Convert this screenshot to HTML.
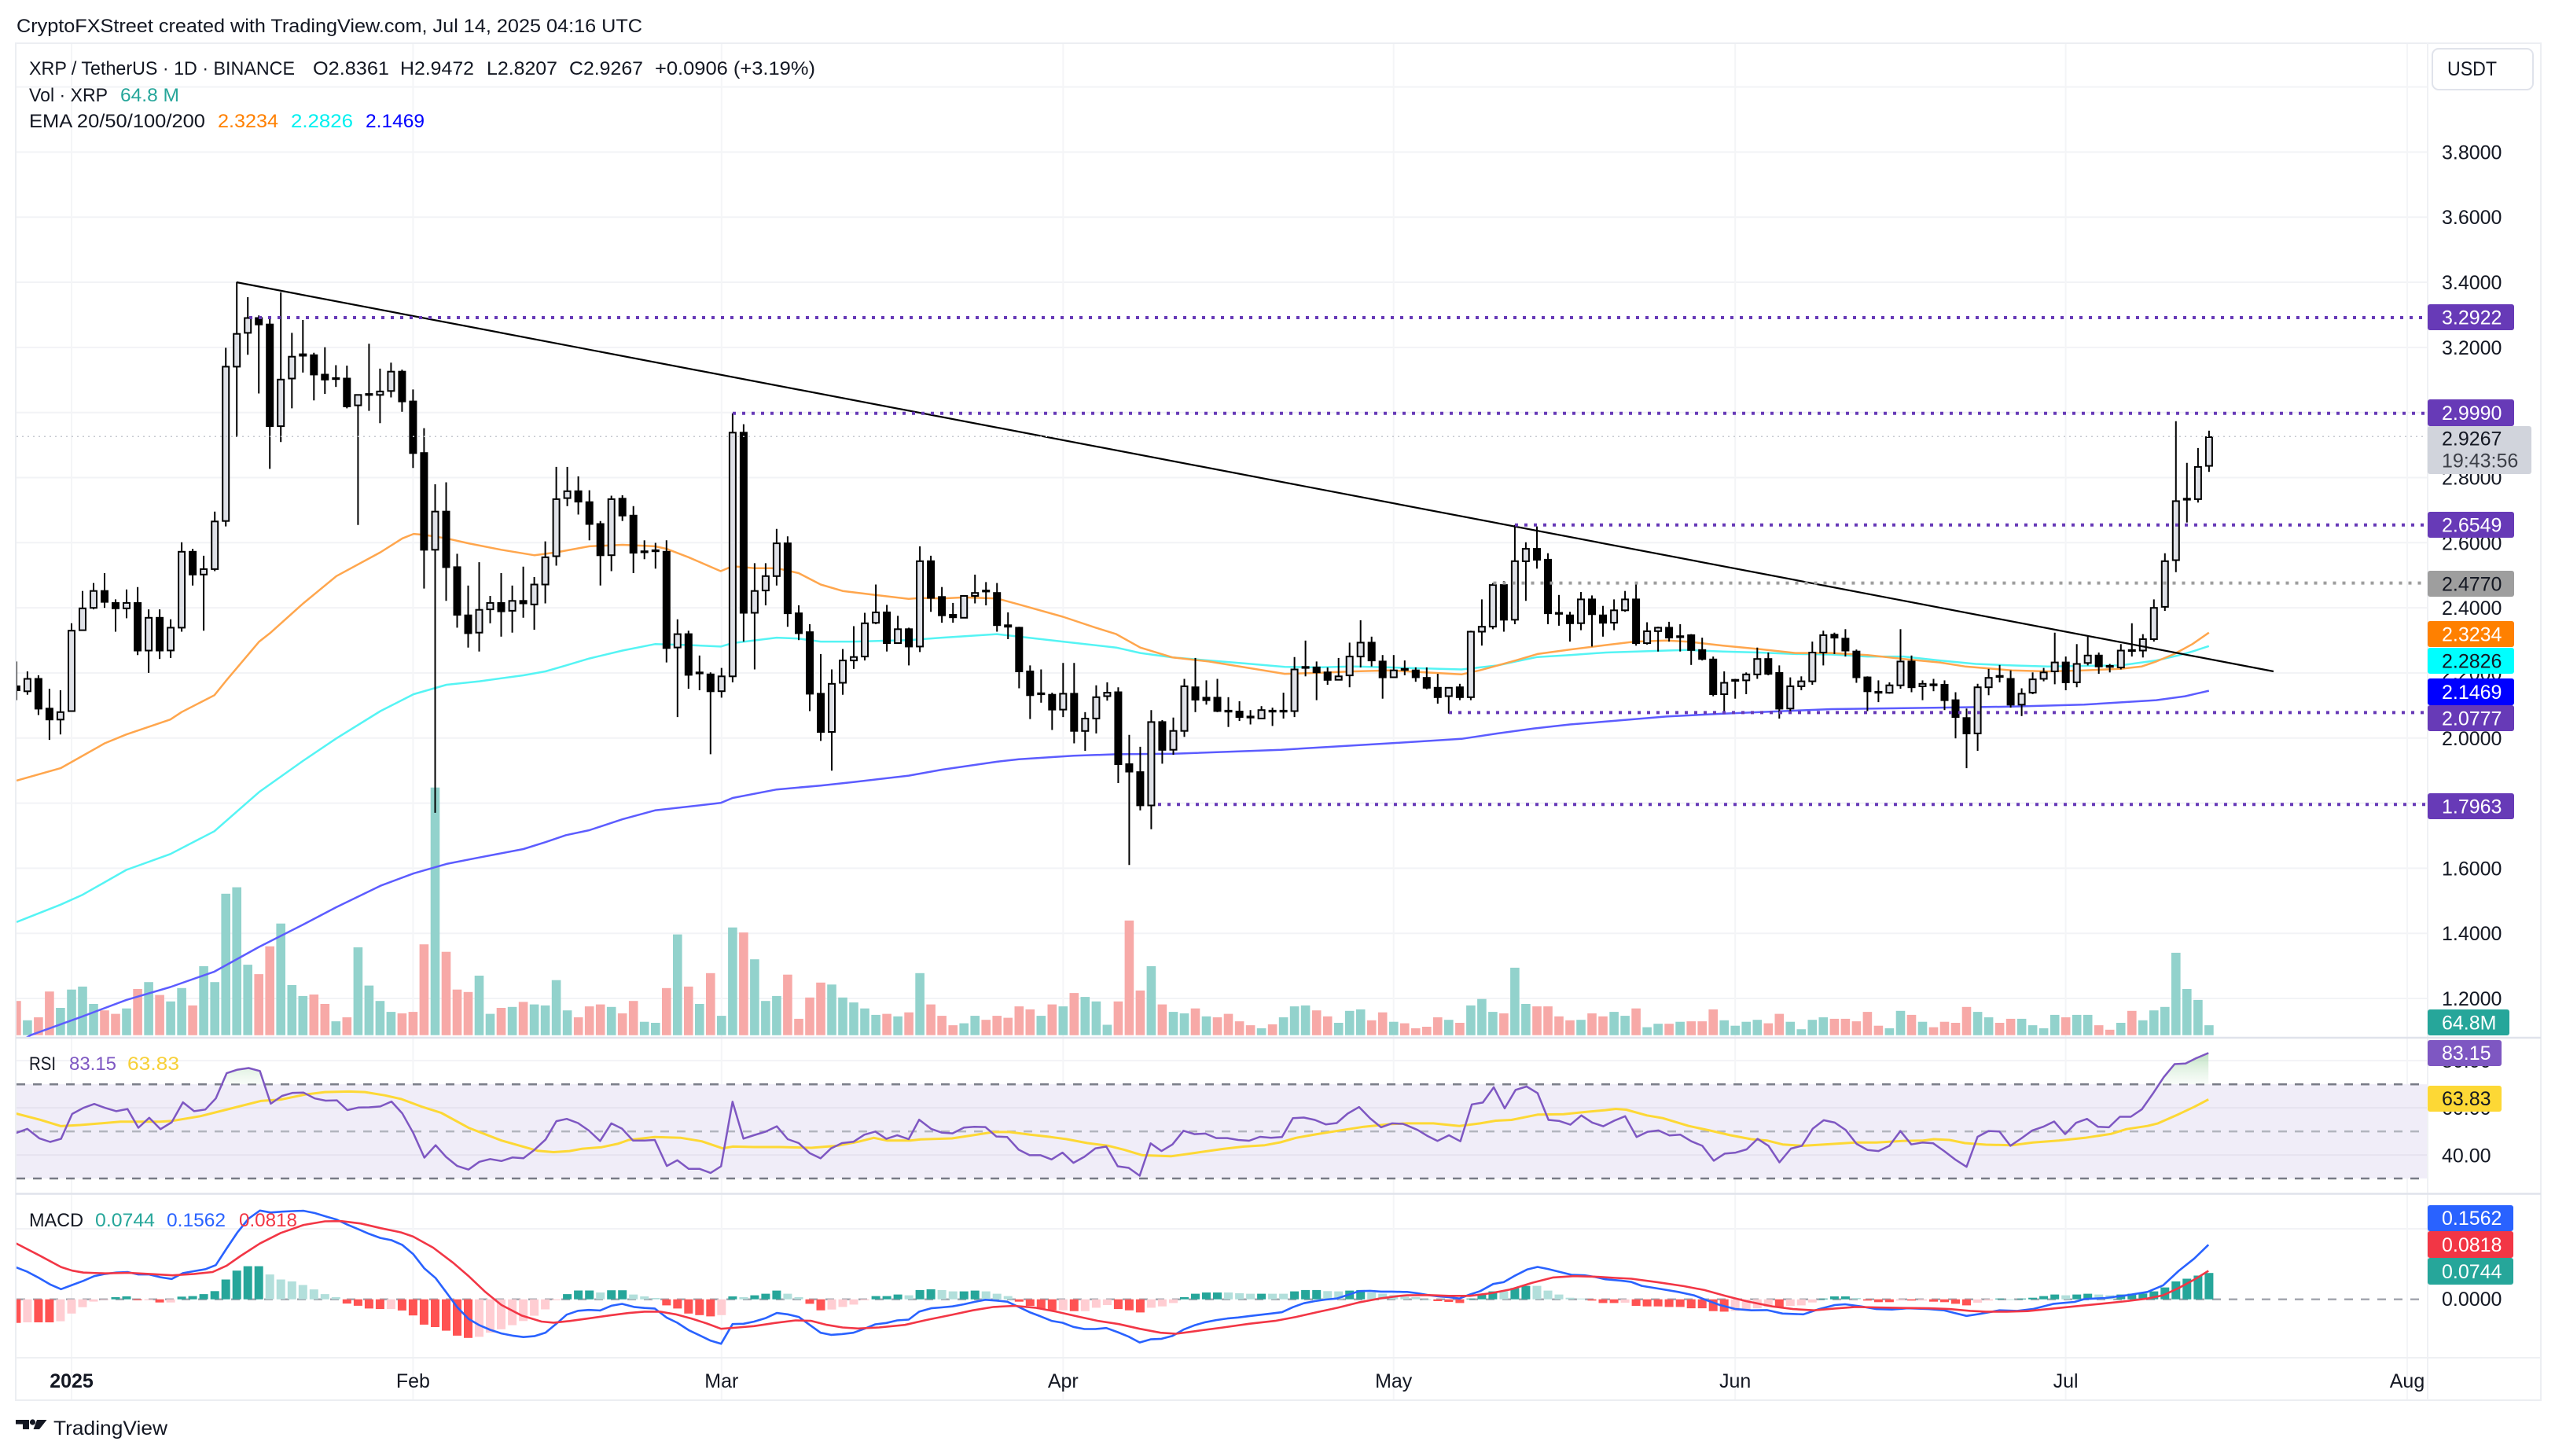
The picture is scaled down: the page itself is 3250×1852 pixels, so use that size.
<!DOCTYPE html>
<html><head><meta charset="utf-8">
<style>
html,body{margin:0;padding:0;background:#fff;}
body{width:3250px;height:1852px;overflow:hidden;position:relative;font-family:"Liberation Sans",Arial,sans-serif;}
svg{position:absolute;left:0;top:0;}
text{font-family:"Liberation Sans",Arial,sans-serif;}
.ax{font-size:25px;fill:#131722;}
.lg{font-size:24px;fill:#131722;}
.wt{font-size:25px;fill:#ffffff;}
.bk{font-size:25px;fill:#131722;}
</style></head><body>
<svg id="c" width="3250" height="1852" viewBox="0 0 3250 1852" xmlns="http://www.w3.org/2000/svg">
<defs>
<clipPath id="cpMain"><rect x="21" y="56" width="3067" height="1263"/></clipPath>
<clipPath id="cpRsi"><rect x="21" y="1321" width="3067" height="196"/></clipPath>
<clipPath id="cpOb"><rect x="21" y="1321" width="3067" height="58.2"/></clipPath>
<clipPath id="cpMacd"><rect x="21" y="1520" width="3067" height="206"/></clipPath>
<linearGradient id="gob" x1="0" y1="1330" x2="0" y2="1379" gradientUnits="userSpaceOnUse">
<stop offset="0" stop-color="#8fcc92" stop-opacity="0.75"/>
<stop offset="1" stop-color="#e8f5e9" stop-opacity="0.3"/>
</linearGradient>
</defs>
<rect x="0" y="0" width="3250" height="1852" fill="#ffffff"/>

<text x="21" y="41" class="lg" textLength="796" lengthAdjust="spacingAndGlyphs">CryptoFXStreet created with TradingView.com, Jul 14, 2025 04:16 UTC</text>

<!-- grid -->
<g stroke="#f2f3f6" stroke-width="2">
<line x1="21" x2="3088" y1="110.6" y2="110.6"/>
<line x1="21" x2="3088" y1="193.4" y2="193.4"/>
<line x1="21" x2="3088" y1="276.2" y2="276.2"/>
<line x1="21" x2="3088" y1="359" y2="359"/>
<line x1="21" x2="3088" y1="441.9" y2="441.9"/>
<line x1="21" x2="3088" y1="524.7" y2="524.7"/>
<line x1="21" x2="3088" y1="607.5" y2="607.5"/>
<line x1="21" x2="3088" y1="690.3" y2="690.3"/>
<line x1="21" x2="3088" y1="773.1" y2="773.1"/>
<line x1="21" x2="3088" y1="856" y2="856"/>
<line x1="21" x2="3088" y1="938.8" y2="938.8"/>
<line x1="21" x2="3088" y1="1021.6" y2="1021.6"/>
<line x1="21" x2="3088" y1="1104.4" y2="1104.4"/>
<line x1="21" x2="3088" y1="1187.2" y2="1187.2"/>
<line x1="21" x2="3088" y1="1270" y2="1270"/>
<line x1="21" x2="3088" y1="1349.1" y2="1349.1"/>
<line x1="21" x2="3088" y1="1563" y2="1563"/>
</g>
<g stroke="#f4f5f7" stroke-width="2">
<line x1="91" x2="91" y1="56" y2="1780"/>
<line x1="525.4" x2="525.4" y1="56" y2="1780"/>
<line x1="917.8" x2="917.8" y1="56" y2="1780"/>
<line x1="1352.3" x2="1352.3" y1="56" y2="1780"/>
<line x1="1772.7" x2="1772.7" y1="56" y2="1780"/>
<line x1="2207.2" x2="2207.2" y1="56" y2="1780"/>
<line x1="2627.6" x2="2627.6" y1="56" y2="1780"/>
<line x1="3062" x2="3062" y1="56" y2="1780"/>
</g>

<!-- RSI background -->
<rect x="21" y="1379.2" width="3067" height="119.8" fill="#f0edf8"/>
<g stroke="#e6e2ef" stroke-width="2">
<line x1="21" x2="3088" y1="1409.1" y2="1409.1"/>
<line x1="21" x2="3088" y1="1469.1" y2="1469.1"/>
</g>
<line x1="21" x2="3088" y1="1379.2" y2="1379.2" stroke="#787b86" stroke-width="2.5" stroke-dasharray="11 10"/>
<line x1="21" x2="3088" y1="1439.1" y2="1439.1" stroke="#b2b5be" stroke-width="2.5" stroke-dasharray="11 10"/>
<line x1="21" x2="3088" y1="1499" y2="1499" stroke="#787b86" stroke-width="2.5" stroke-dasharray="11 10"/>
<line x1="21" x2="3088" y1="1652.7" y2="1652.7" stroke="#a5a8b0" stroke-width="2.5" stroke-dasharray="11 10"/>

<g id="gvol" clip-path="url(#cpMain)"></g>
<g id="gema" clip-path="url(#cpMain)"></g>
<g id="gcdl" clip-path="url(#cpMain)"></g>

<!-- trendline & levels -->
<line x1="300.7" y1="359" x2="2892" y2="854" stroke="#000" stroke-width="2.2"/>
<line x1="21" x2="3088" y1="555.3" y2="555.3" stroke="#c5c8cf" stroke-width="1.5" stroke-dasharray="2 5"/>
<g stroke="#673ab7" stroke-width="4" stroke-dasharray="4 8">
<line x1="317" x2="3088" y1="404" y2="404"/>
<line x1="932" x2="3088" y1="525.7" y2="525.7"/>
<line x1="1927" x2="3088" y1="667.8" y2="667.8"/>
<line x1="1843" x2="3088" y1="906.4" y2="906.4"/>
<line x1="1473" x2="3088" y1="1023.3" y2="1023.3"/>
</g>
<line x1="1899.5" x2="3088" y1="741.6" y2="741.6" stroke="#9e9e9e" stroke-width="4" stroke-dasharray="4 8"/>

<g id="grsi" clip-path="url(#cpRsi)"></g>
<g id="gmacd" clip-path="url(#cpMacd)"></g>

<!-- frame & separators -->
<rect x="20" y="55" width="3212" height="1726" fill="none" stroke="#eceef2" stroke-width="2"/>
<line x1="3088" x2="3088" y1="55" y2="1781" stroke="#f0f1f4" stroke-width="2"/>
<line x1="20" x2="3232" y1="1320" y2="1320" stroke="#e0e3eb" stroke-width="2.5"/>
<line x1="20" x2="3232" y1="1518.5" y2="1518.5" stroke="#e0e3eb" stroke-width="2.5"/>
<line x1="20" x2="3232" y1="1727" y2="1727" stroke="#eef0f3" stroke-width="2"/>

<!-- legend -->
<text x="37" y="95" class="lg" textLength="338" lengthAdjust="spacingAndGlyphs">XRP / TetherUS · 1D · BINANCE</text>
<text x="398" y="95" class="lg" textLength="97" lengthAdjust="spacingAndGlyphs">O2.8361</text>
<text x="509" y="95" class="lg" textLength="94" lengthAdjust="spacingAndGlyphs">H2.9472</text>
<text x="619" y="95" class="lg" textLength="90" lengthAdjust="spacingAndGlyphs">L2.8207</text>
<text x="724" y="95" class="lg" textLength="94" lengthAdjust="spacingAndGlyphs">C2.9267</text>
<text x="833" y="95" class="lg" textLength="204" lengthAdjust="spacingAndGlyphs">+0.0906 (+3.19%)</text>
<text x="37" y="129" class="lg" textLength="100" lengthAdjust="spacingAndGlyphs">Vol · XRP</text>
<text x="153" y="129" class="lg" style="fill:#26a69a" textLength="75" lengthAdjust="spacingAndGlyphs">64.8 M</text>
<text x="37" y="162" class="lg" textLength="224" lengthAdjust="spacingAndGlyphs">EMA 20/50/100/200</text>
<text x="277" y="162" class="lg" style="fill:#ff8000" textLength="77" lengthAdjust="spacingAndGlyphs">2.3234</text>
<text x="370" y="162" class="lg" style="fill:#00f0f0" textLength="79" lengthAdjust="spacingAndGlyphs">2.2826</text>
<text x="465" y="162" class="lg" style="fill:#0000ff" textLength="75" lengthAdjust="spacingAndGlyphs">2.1469</text>

<text x="37" y="1361" class="lg" textLength="34" lengthAdjust="spacingAndGlyphs">RSI</text>
<text x="88" y="1361" class="lg" style="fill:#7e57c2" textLength="60" lengthAdjust="spacingAndGlyphs">83.15</text>
<text x="162" y="1361" class="lg" style="fill:#f7d038" textLength="66" lengthAdjust="spacingAndGlyphs">63.83</text>
<text x="37" y="1560" class="lg" textLength="69" lengthAdjust="spacingAndGlyphs">MACD</text>
<text x="121" y="1560" class="lg" style="fill:#26a69a" textLength="76" lengthAdjust="spacingAndGlyphs">0.0744</text>
<text x="212" y="1560" class="lg" style="fill:#2962ff" textLength="75" lengthAdjust="spacingAndGlyphs">0.1562</text>
<text x="304" y="1560" class="lg" style="fill:#f23645" textLength="74" lengthAdjust="spacingAndGlyphs">0.0818</text>

<!-- price axis -->
<rect x="3094" y="62" width="128" height="52" rx="8" fill="#fff" stroke="#e0e3eb" stroke-width="2"/>
<text x="3113" y="96" class="ax" textLength="63" lengthAdjust="spacingAndGlyphs">USDT</text>
<g class="ax">
<text x="3106" y="202.4">3.8000</text>
<text x="3106" y="285.2">3.6000</text>
<text x="3106" y="368">3.4000</text>
<text x="3106" y="450.9">3.2000</text>
<text x="3106" y="616.5">2.8000</text>
<text x="3106" y="699.3">2.6000</text>
<text x="3106" y="782.1">2.4000</text>
<text x="3106" y="865">2.2000</text>
<text x="3106" y="947.8">2.0000</text>
<text x="3106" y="1113.4">1.6000</text>
<text x="3106" y="1196.2">1.4000</text>
<text x="3106" y="1279">1.2000</text>
<text x="3106" y="1358">80.00</text>
<text x="3106" y="1418">60.00</text>
<text x="3106" y="1478.5">40.00</text>
<text x="3106" y="1661">0.0000</text>
</g>
<rect x="3088" y="387" width="110" height="33" rx="3" fill="#673ab7"/><text x="3106" y="412.5" class="wt">3.2922</text>
<rect x="3088" y="508" width="110" height="34" rx="3" fill="#673ab7"/><text x="3106" y="534" class="wt">2.9990</text>
<rect x="3088" y="542" width="132" height="61" rx="3" fill="#d1d4dc"/><text x="3106" y="566.5" class="bk">2.9267</text><text x="3106" y="594.5" class="bk" style="fill:#3c3f47">19:43:56</text>
<rect x="3088" y="651" width="110" height="33" rx="3" fill="#673ab7"/><text x="3106" y="676.5" class="wt">2.6549</text>
<rect x="3088" y="726" width="110" height="33" rx="3" fill="#9e9e9e"/><text x="3106" y="751.5" class="bk">2.4770</text>
<rect x="3088" y="790" width="110" height="33" rx="3" fill="#ff8000"/><text x="3106" y="815.5" class="wt">2.3234</text>
<rect x="3088" y="824" width="110" height="33" rx="3" fill="#00ffff"/><text x="3106" y="849.5" class="bk">2.2826</text>
<rect x="3088" y="863" width="110" height="34" rx="3" fill="#0000ff"/><text x="3106" y="889" class="wt">2.1469</text>
<rect x="3088" y="897" width="110" height="33" rx="3" fill="#673ab7"/><text x="3106" y="922.5" class="wt">2.0777</text>
<rect x="3088" y="1009" width="110" height="33" rx="3" fill="#673ab7"/><text x="3106" y="1034.5" class="wt">1.7963</text>
<rect x="3088" y="1284" width="104" height="33" rx="3" fill="#26a69a"/><text x="3106" y="1309.5" class="wt">64.8M</text>
<rect x="3088" y="1323" width="94" height="33" rx="3" fill="#7e57c2"/><text x="3106" y="1348" class="wt">83.15</text>
<rect x="3088" y="1381" width="94" height="33" rx="3" fill="#fdd835"/><text x="3106" y="1406" class="bk">63.83</text>
<rect x="3088" y="1533" width="109" height="33" rx="3" fill="#2962ff"/><text x="3106" y="1558" class="wt">0.1562</text>
<rect x="3088" y="1566" width="109" height="34" rx="3" fill="#f23645"/><text x="3106" y="1592" class="wt">0.0818</text>
<rect x="3088" y="1600" width="109" height="34" rx="3" fill="#26a69a"/><text x="3106" y="1626" class="wt">0.0744</text>

<!-- time axis -->
<g class="ax" text-anchor="middle">
<text x="91" y="1765" style="font-weight:bold">2025</text>
<text x="525.4" y="1765">Feb</text>
<text x="917.8" y="1765">Mar</text>
<text x="1352.3" y="1765">Apr</text>
<text x="1772.7" y="1765">May</text>
<text x="2207.2" y="1765">Jun</text>
<text x="2627.6" y="1765">Jul</text>
<text x="3062" y="1765">Aug</text>
</g>

<!-- logo -->
<g fill="#131722">
<polygon points="20,1806 37,1806 37,1818 29,1818 29,1811.5 20,1811.5"/>
<circle cx="41.5" cy="1809" r="3.6"/>
<polygon points="47,1806 59.5,1806 50,1818 42.5,1818"/>
</g>
<text x="68" y="1825" style="font-size:25px;fill:#131722" textLength="145" lengthAdjust="spacingAndGlyphs">TradingView</text>
</svg>
<script>
(function(){
var NS="http://www.w3.org/2000/svg";
function mk(t,a,p){var e=document.createElementNS(NS,t);for(var k in a)e.setAttribute(k,a[k]);p.appendChild(e);return e;}
function X(i){return 34.9+14.015*i;}
function Y(v){return 330+v/1.584;}
var gv=document.getElementById('gvol'),ge=document.getElementById('gema'),gc=document.getElementById('gcdl'),gr=document.getElementById('grsi'),gm=document.getElementById('gmacd');

/* volume */
var V="r1494,t1533,r1527,r1475,t1508,t1471,t1465,t1500,r1513,r1520,t1509,r1470,t1456,r1482,t1495,t1468,r1503,t1424,t1456,t1278,t1265,t1421,r1440,r1384,t1338,t1462,t1484,r1481,r1500,t1535,r1527,t1386,t1463,t1494,t1516,r1519,r1516,r1380,t1064,r1395,r1471,r1476,t1443,t1520,r1508,t1506,r1496,t1501,t1503,t1452,t1513,r1527,r1505,r1501,t1506,r1519,r1494,t1536,t1538,r1468,t1360,r1465,t1500,r1438,t1524,t1346,r1356,t1410,t1494,t1484,r1441,r1530,r1487,r1457,t1461,t1487,t1497,t1509,t1522,r1520,t1525,r1517,t1438,r1501,r1524,r1543,t1539,t1524,r1532,r1524,r1528,r1505,r1511,t1524,r1501,t1505,r1478,t1486,t1495,t1542,r1495,r1332,r1473,t1424,r1501,t1516,t1519,r1509,t1525,r1527,r1520,r1535,r1543,t1549,r1541,t1527,t1505,t1503,r1513,r1525,t1538,t1514,t1511,r1533,r1517,t1536,r1539,r1549,r1546,r1527,t1532,r1538,t1503,t1490,t1516,r1519,t1427,t1500,r1505,r1505,r1525,r1533,t1532,r1519,r1525,t1516,t1524,r1509,t1547,t1540,r1540,t1536,r1535,r1535,r1511,t1533,t1544,t1536,t1532,r1539,r1520,t1536,t1551,t1532,t1527,r1530,r1530,r1535,r1516,r1544,t1549,t1514,r1522,t1536,r1547,r1536,r1538,r1506,t1516,t1527,r1538,r1530,t1530,t1543,t1549,t1522,r1527,t1522,t1522,r1543,r1552,t1538,r1514,t1533,t1513,t1506,t1397,t1470,t1492,t1543".split(',');
var vb=Y(1563);
for(var k=0;k<V.length;k++){var i=k-1,c=V[k][0],y=Y(+V[k].slice(1));
mk('rect',{x:(X(i)-5.8).toFixed(1),y:y.toFixed(1),width:11.6,height:(vb-y).toFixed(1),fill:c=='t'?'#92d2cc':'#f7a9a7'},gv);}

/* EMAs */
function zx(z,x){return [0,700,1400,2100][z]+x/2.178;}
function ln(str,stroke,w,g){var pts=[];str.split('|').forEach(function(seg){var p=seg.split(':');var z=+p[0];p[1].trim().split(/\s+/).forEach(function(q){var a=q.split(',');pts.push(zx(z,+a[0]).toFixed(1)+','+Y(+a[1]).toFixed(1));});});
mk('polyline',{points:pts.join(' '),fill:'none',stroke:stroke,'stroke-width':w,'stroke-linejoin':'round'},g);}
ln("0:0,1600 85,1563 229,1525 350,1492 472,1466 594,1435 718,1385 840,1340 932,1305 1054,1262 1146,1237 1237,1218 1328,1205 1450,1188 1511,1174 1568,1160|1:108,1150 200,1128 290,1110 472,1095 505,1085 627,1068 749,1060 840,1053 993,1040 1085,1028 1237,1012 1298,1007 1450,1000 1568,997|2:200,996 500,988 800,975 1000,966 1100,955 1200,945 1300,937 1400,931 1568,921|3:200,915 500,906 800,903 1000,901 1200,897 1400,888 1480,880 1546,869","#5c5cff",2.5,ge);
ln("0:46,1335 168,1300 229,1280 350,1230 472,1198 594,1152 718,1073 840,1010 932,965 1054,910 1146,876 1237,857 1328,850 1450,838 1511,830 1568,818|1:108,804 200,788 290,775 383,777 472,780 505,773 627,762 688,764 749,770 840,770 993,767 1085,762 1237,755 1298,760 1420,770 1568,782|2:110,793 200,802 300,808 400,814 510,821 600,822 700,820 800,822 900,824 1000,826 1100,818 1150,810 1210,801 1300,797 1400,792 1568,788|3:100,787 200,790 300,792 400,795 500,796 600,800 700,800 800,808 900,815 1000,818 1100,820 1200,819 1300,818 1400,808 1460,798 1500,790 1546,779","#55f4f4",2.5,ge);
ln("0:46,1050 168,1025 290,975 350,957 472,927 503,912 594,878 625,850 718,770 748,753 840,693 932,638 1054,590 1115,562 1146,553 1176,555 1237,562 1298,572 1389,585 1481,596 1542,590|1:108,578 200,575 290,578 322,583 383,600 472,628 505,618 566,622 627,622 688,632 749,655 810,668 900,676 993,684 1024,682 1085,683 1145,681 1237,683 1298,695 1420,720 1511,742 1568,755|2:110,782 200,802 300,810 400,822 510,835 600,833 700,830 800,828 900,832 1000,836 1050,828 1100,818 1150,808 1210,795 1300,786 1400,777 1480,770 1568,768|3:100,770 200,778 300,785 400,793 500,793 600,797 700,805 800,812 870,820 1000,828 1100,830 1200,828 1300,825 1360,820 1400,810 1450,795 1500,775 1546,752","#ffa64d",2.5,ge);

/* candles */
var CD="d860,868,810,888 u845,870,830,877 d845,905,838,918 d905,927,865,968 u912,927,868,957 u748,910,733,910 u703,747,668,747 u668,702,652,705 d668,690,632,702 d692,703,685,750 u692,703,665,723 d692,788,660,797 u722,788,705,833 d722,788,705,805 u742,788,725,803 u589,742,570,750 d589,635,583,657 u624,635,597,748 u528,624,508,628 u216,527,178,538 u150,216,46,358 u118,148,76,192 d118,131,113,270 d131,336,120,422 u242,336,66,368 u196,240,148,300 d191,194,122,228 d193,232,188,284 d232,242,177,271 d239,241,213,257 d240,296,214,300 u273,294,273,535 d271,273,170,305 u266,273,220,330 u226,265,208,278 d226,286,222,307 d286,390,262,420 d390,585,340,663 u508,585,453,1115 d508,620,449,688 d620,716,593,742 d717,753,657,782 u706,752,610,790 u692,705,678,733 d692,709,632,760 u688,708,657,752 d688,693,619,722 u655,695,640,746 u600,655,568,693 u483,598,418,617 u467,481,418,497 d467,488,437,514 d489,533,465,566 d533,596,527,657 u483,596,476,628 d482,516,475,527 d516,591,497,632 d588,590,566,604 d586,588,571,623 d589,783,566,812 u755,782,725,922 d755,837,748,865 d832,834,798,868 d836,870,832,997 u840,870,823,883 u349,840,310,852 d349,712,332,770 u668,712,612,826 u638,667,612,697 u572,638,543,657 d572,713,558,740 d713,753,697,767 d751,875,735,910 d875,952,795,970 u855,952,826,1030 u808,853,785,877 u801,808,739,825 u733,800,712,808 u711,732,655,735 d711,773,696,790 u745,773,718,773 d745,780,742,818 u608,780,578,791 d608,682,597,710 d680,717,660,732 d716,721,692,732 u678,722,678,723 u672,678,635,693 d667,669,650,697 d672,737,652,750 d737,740,711,765 d742,830,740,864 d830,878,818,926 d874,876,826,893 d877,907,873,948 u875,907,813,922 d875,950,813,975 u925,950,912,990 u882,925,858,955 u873,880,852,889 d872,1017,862,1055 d1017,1032,958,1220 d1033,1100,982,1110 u932,1100,908,1148 d932,988,928,1016 u950,988,923,998 u860,950,845,962 d862,887,803,912 d883,888,848,897 d883,910,845,912 d909,911,882,942 d911,922,890,930 d921,923,908,937 u908,925,900,925 d909,911,903,940 d909,911,873,925 u826,910,801,922 d821,823,768,840 d822,832,810,888 d832,847,822,857 u840,847,803,848 u800,838,772,862 u772,800,727,822 d772,808,760,820 d810,842,797,885 u828,842,797,842 d825,827,808,838 d828,842,822,851 d843,863,822,866 d863,882,835,895 u863,880,863,915 d862,882,855,888 u750,882,748,888 u740,750,685,778 u656,740,652,745 d656,726,648,750 u608,726,535,735 u583,608,570,688 d583,605,538,623 d605,713,592,735 d712,714,676,738 d717,733,710,770 u685,733,670,747 d685,715,677,780 d717,732,698,760 u707,732,685,747 u685,707,668,710 d685,773,651,778 u749,773,731,776 u742,749,740,790 d742,762,730,770 d759,761,735,790 d757,787,755,817 d787,805,762,808 d806,876,800,880 u853,876,830,913 d847,849,845,885 u836,848,832,876 u805,836,782,845 d805,835,792,838 d833,905,818,925 u860,905,842,912 u850,860,840,868 u792,850,770,857 u757,792,748,818 d756,762,752,795 d764,788,745,800 d790,842,786,853 d842,870,840,910 d871,873,848,892 u858,873,852,875 u810,858,745,865 d810,862,798,872 u855,860,848,888 d856,858,845,870 d857,888,848,908 d888,922,872,965 d924,955,905,1025 u862,955,855,990 u843,862,825,878 d839,841,817,852 d845,897,828,903 u875,897,864,920 u846,873,832,876 u832,845,823,850 u812,830,752,856 d812,852,800,868 u815,852,775,862 u798,813,760,818 d798,820,792,835 d819,821,815,832 u788,822,775,826 d787,789,733,800 u765,788,755,802 u702,765,685,770 u608,700,592,708 u487,606,326,630 d482,484,410,530 u418,483,380,490 u358,416,345,428".split(' ');
CD.forEach(function(s,k){var i=k-1,up=s[0]=='u',a=s.slice(1).split(',').map(Number),cx=X(i);
mk('line',{x1:cx.toFixed(1),x2:cx.toFixed(1),y1:Y(a[2]).toFixed(1),y2:Y(a[3]).toFixed(1),stroke:'#000','stroke-width':2},gc);
var t=Y(a[0]),b=Y(a[1]);var h=Math.max(b-t,0.6);
mk('rect',{x:(cx-4).toFixed(1),y:t.toFixed(1),width:8,height:h.toFixed(1),fill:up?'#dfe1e7':'#000',stroke:'#000','stroke-width':2},gc);});

/* RSI / MACD */
var Z4=[0,1.96,1300,2.84],Z10=[760,1.508,1320,2.985],Z11=[1790,1.508,1320,2.985];
function P(list,z){return list.trim().split(/\s+/).map(function(q){var a=q.split(',');return [z[0]+a[0]/z[1],z[2]+a[1]/z[3]];});}
function S(arr){return arr.map(function(p){return p[0].toFixed(1)+','+p[1].toFixed(1);}).join(' ');}
var rsi=P("38,402 68,386 98,420 125,433 152,422 180,332 208,310 235,296 262,310 290,322 318,314 345,382 372,346 400,387 428,362 456,290 484,322 512,316 538,276 565,185 592,172 620,166 648,177 675,295 703,267 730,256 757,255 785,276 812,284 840,283 866,318 893,309 920,308 948,305 976,287 1003,330 1030,400 1058,490 1086,445 1112,487 1140,520 1168,533 1195,505 1222,495 1250,502 1278,489 1305,492 1332,462 1360,425 1387,358 1413,350 1441,365 1468,392 1496,430 1524,366",Z4).concat(
P("47,345 68,390 90,390 110,388 133,487 153,465 175,498 196,498 217,513 237,488 259,243 280,383 300,370 322,357 344,336 365,385 386,400 407,438 428,458 448,420 469,400 491,395 512,368 533,356 554,384 575,370 597,385 617,311 640,346 660,360 681,363 703,341 723,338 744,339 765,375 786,377 808,425 829,446 850,446 871,462 892,436 913,475 934,452 955,420 976,413 998,488 1019,494 1040,524 1061,401 1082,430 1103,405 1124,353 1145,366 1166,364 1187,381 1208,381 1229,388 1250,391 1271,376 1292,380 1313,377 1334,305 1355,303 1376,312 1397,329 1418,324 1439,288 1461,263 1482,306 1503,340 1524,325 1545,327",Z10),
P("0,333 20,350 38,372 58,392 80,370 102,393 124,253 145,246 166,188 187,268 208,198 229,185 250,210 271,312 292,316 313,330 334,295 355,322 376,336 397,315 418,298 440,377 461,357 482,352 503,371 524,368 545,393 566,410 588,467 609,440 630,436 651,424 672,384 693,410 714,473 736,421 757,410 778,345 799,313 820,322 841,350 862,403 883,426 904,430 925,410 946,354 967,405 988,398 1009,401 1030,430 1051,462 1073,490 1094,376 1115,354 1136,356 1157,410 1178,382 1199,352 1220,338 1241,318 1262,366 1283,323 1304,308 1325,338 1346,340 1367,300 1388,300 1409,272 1430,213 1451,150 1472,100 1493,98 1514,77 1537,58",Z11));
var rma=P("38,330 100,353 152,376 200,372 300,360 400,360 430,357 500,340 560,318 650,285 700,280 760,262 810,253 870,251 910,253 960,265 1000,278 1050,305 1100,328 1170,383 1250,428 1340,465 1380,470 1420,466 1450,458 1500,452 1540,440",Z4).concat(
P("60,388 110,377 160,380 200,393 240,420 260,413 300,415 350,415 410,418 460,410 500,395 530,380 555,390 600,390 620,386 680,382 720,370 760,358 790,358 830,368 870,377 900,385 940,400 980,410 1010,425 1045,446 1100,450 1150,436 1200,422 1240,413 1280,408 1310,397 1340,380 1380,366 1430,350 1470,338 1520,328",Z10),
P("0,325 50,325 100,335 140,325 170,315 200,312 250,292 300,290 340,282 380,275 400,270 420,273 460,295 490,305 540,335 580,352 620,370 660,385 690,390 720,405 760,410 800,405 860,398 900,398 950,392 990,390 1010,385 1040,388 1070,400 1110,406 1160,408 1200,398 1250,390 1300,380 1350,365 1380,347 1420,335 1440,325 1480,290 1510,262 1537,234",Z11));
var fp=rsi.slice();fp.push([rsi[rsi.length-1][0],1379.2]);fp.push([rsi[0][0],1379.2]);
mk('polygon',{points:S(fp),fill:'url(#gob)','clip-path':'url(#cpOb)',stroke:'none'},gr);
mk('polyline',{points:S(rma),fill:'none',stroke:'#fdd835','stroke-width':3,'stroke-linejoin':'round'},gr);
mk('polyline',{points:S(rsi),fill:'none',stroke:'#7e57c2','stroke-width':2.5,'stroke-linejoin':'round'},gr);

/* histogram */
var cols={T:'#26a69a',t:'#b2dfdb',R:'#ff5252',r:'#ffcdd2'},z0=1652.7;
function H(str,start,z){str.split(',').forEach(function(s,k){var i=start+k,c=s[0],y=z[2]+(+s.slice(1))/z[3];var y1=Math.min(y,z0),y2=Math.max(y,z0);
mk('rect',{x:(X(i)-5.5).toFixed(1),y:y1.toFixed(1),width:11,height:Math.max(y2-y1,0.8).toFixed(1),fill:cols[c]},gm);});}
H("R1087,r1085,R1085,R1085,r1081,r1053,r1030,r1010,r1003,T994,T991,R1005,r1005,R1013,r1013,T992,T990,T983,T972,T930,T898,T882,T882,t912,t930,t937,t950,t966,t983,t994,R1017,R1025,R1035,R1037,r1037,R1042,R1060,R1093,R1102,R1115,R1133,R1141,r1137,r1122,r1110,r1095,r1080,r1061,r1038,r1005,T983,T970,T970,t977,T969,T969",-1,Z4);
H("t975,t982,t988,R1016,R1028,R1047,R1053,R1058,r1053,T982,t985,T978,T972,T960,t972,t985,R1010,R1035,r1032,r1022,r1013,r997,T981,T981,T975,t978,T958,T955,t958,t963,T963,T960,t963,t972,t981,R1002,R1018,R1030,R1035,r1035,R1038,r1038,r1025,r1015,R1030,R1035,R1043,r1025,r1020,r1007,T985,T972,T967,T967,t967,t970,t972,T972,t972,t972,T963,T958,T958,t962,t963,T960,T958,t967,t972,t977,t983",55,Z10);
H("t985,t993,R1000,R1003,R1007,T990,T975,T963,t962,T950,T942,t942,t960,t975,t987,t990,R998,R1007,R1007,r1006,R1018,R1020,R1020,R1022,R1022,R1027,R1027,R1038,R1040,r1037,r1033,r1027,r1022,R1025,r1018,r1016,r1005,T990,T982,T982,t988,R998,R1004,R1004,r998,R998,r998,R1002,R1004,R1010,R1016,r1006,r998,T990,t993,T990,T987,T981,T975,t978,T975,T972,t975,t978,T975,T972,T971,T963,T948,T925,T915,T903,T893",126,Z11);
var mb=P("38,885 68,902 98,925 125,948 152,965 180,950 208,935 235,918 262,910 290,905 318,903 345,912 372,912 400,922 428,928 456,907 484,900 512,893 538,878 565,818 592,760 620,710 648,681 675,688 703,685 730,683 757,682 785,690 812,702 840,714 866,732 893,748 920,765 948,780 976,788 1003,805 1030,838 1058,890 1086,925 1112,975 1140,1030 1168,1072 1195,1095 1222,1112 1250,1125 1278,1133 1305,1138 1332,1135 1360,1122 1387,1090 1413,1057 1441,1043 1468,1040 1496,1042 1524,1025 1551,1018",Z4).concat(
P("70,1022 90,1026 110,1028 133,1063 153,1082 175,1110 196,1130 217,1150 237,1162 259,1087 280,1086 300,1078 322,1065 344,1045 365,1050 386,1060 407,1090 428,1120 448,1128 469,1125 491,1120 512,1105 533,1088 554,1083 575,1073 597,1070 617,1040 640,1027 660,1024 681,1020 703,1012 723,1003 744,995 765,998 786,1002 808,1022 829,1042 850,1058 871,1075 892,1082 913,1098 934,1106 955,1106 976,1102 998,1118 1019,1135 1040,1157 1061,1145 1082,1143 1103,1132 1124,1108 1145,1092 1166,1080 1187,1072 1208,1066 1229,1062 1250,1057 1271,1052 1292,1047 1313,1042 1334,1023 1355,1008 1376,1000 1397,994 1418,990 1439,977 1461,962 1482,961 1503,964 1524,964 1545,965",Z10),
P("0,965 20,970 40,977 60,982 80,985 100,990 120,975 140,962 165,935 185,928 205,905 230,880 250,870 270,878 295,890 315,900 340,902 360,908 380,917 410,922 430,927 450,942 480,952 520,965 550,978 575,997 600,1015 630,1030 660,1035 690,1034 720,1047 760,1050 790,1030 820,1015 840,1012 870,1020 900,1030 930,1032 960,1027 1000,1030 1030,1035 1050,1045 1073,1056 1100,1048 1136,1035 1170,1037 1200,1030 1240,1010 1280,1003 1300,992 1340,988 1380,978 1420,965 1450,940 1480,885 1510,838 1537,786",Z11));
var ms=P("38,798 98,843 152,885 180,898 208,905 262,908 320,906 372,910 430,915 484,910 530,903 565,880 600,845 648,800 700,762 757,733 810,720 850,719 900,728 950,745 1000,760 1030,775 1080,815 1130,870 1170,920 1210,975 1250,1022 1300,1060 1350,1082 1380,1086 1420,1080 1470,1070 1520,1060",Z4).concat(
P("60,1045 90,1040 120,1040 150,1050 180,1066 210,1085 237,1105 270,1100 300,1095 340,1083 380,1073 410,1075 440,1090 470,1100 500,1104 540,1100 590,1090 630,1072 680,1052 720,1035 760,1022 800,1018 840,1025 880,1040 920,1058 960,1075 1000,1087 1040,1105 1080,1120 1110,1124 1150,1113 1200,1100 1250,1086 1300,1075 1340,1060 1380,1042 1420,1025 1460,1005 1500,990 1540,980",Z10),
P("0,978 40,977 80,980 120,980 160,970 200,955 240,930 280,910 320,905 360,907 400,912 430,915 480,928 530,943 570,958 610,980 650,1000 700,1020 740,1030 780,1035 820,1028 860,1022 900,1024 950,1026 1000,1027 1040,1030 1080,1037 1110,1040 1150,1040 1190,1038 1230,1030 1280,1020 1330,1010 1380,1000 1420,990 1450,978 1480,950 1510,918 1537,885",Z11));
mk('polyline',{points:S(mb),fill:'none',stroke:'#2962ff','stroke-width':2.6,'stroke-linejoin':'round'},gm);
mk('polyline',{points:S(ms),fill:'none',stroke:'#f23645','stroke-width':2.6,'stroke-linejoin':'round'},gm);
})();
</script>
</body></html>
